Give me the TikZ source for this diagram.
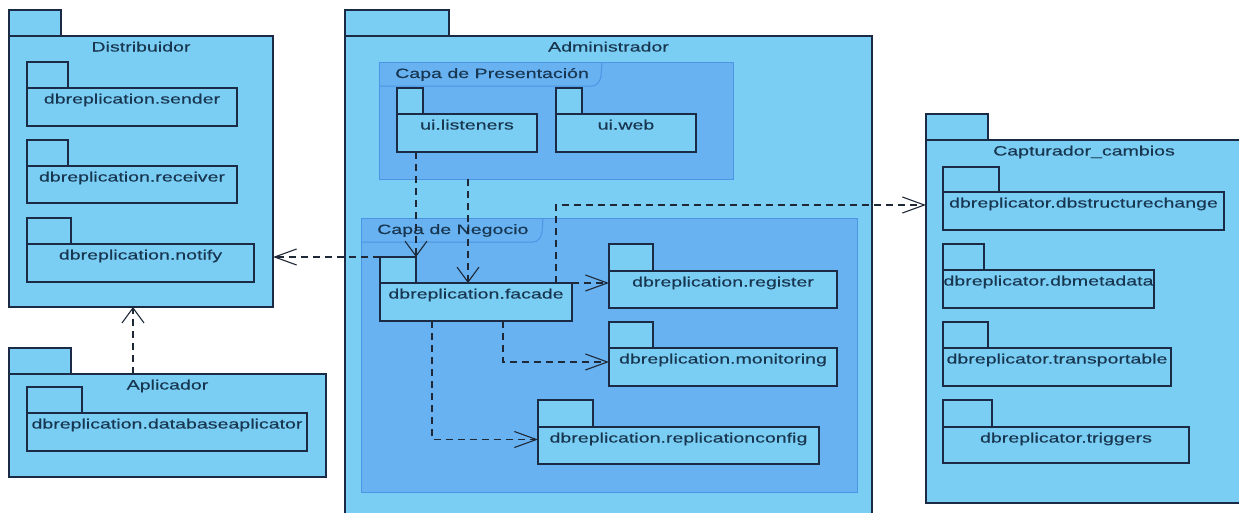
\documentclass[tikz,border=0pt]{standalone}
\usepackage{fontspec}
\setmainfont{Liberation Sans}[FakeStretch=1.45,FakeBold=0.35]
\usetikzlibrary{arrows.meta,calc}

\definecolor{pkgfill}{HTML}{7ACEF4}
\definecolor{pkgline}{HTML}{1B2B45}
\definecolor{layerfill}{HTML}{68B2F2}
\definecolor{layerline}{HTML}{4C94E4}
\definecolor{labeltext}{HTML}{183650}
\definecolor{depline}{HTML}{1E2836}

% UML package: tab + body, label centred at the top of the body
% #1 name, #2 left, #3 tab top, #4 tab right, #5 body top, #6 body right, #7 body bottom, #8 label
\newcommand{\umlpkg}[8]{%
  \node[pkgshape, minimum width={(#4-#2)*1pt}, minimum height={(#5-#3)*1pt}] (#1-tab) at (#2,#3) {};
  \node[pkgshape, minimum width={(#6-#2)*1pt}, minimum height={(#7-#5)*1pt}] (#1) at (#2,#5) {};
  \node[pkgtext] (#1-lbl) at ($(#1.north)+(0,15.5)$) {#8};
}

% Layer frame with a name tab in its upper left corner
% #1 name, #2 left, #3 top, #4 right, #5 bottom, #6 tab right, #7 label
\newcommand{\layerframe}[7]{%
  \node[layerbox, minimum width={(#4-#2)*1pt}, minimum height={(#5-#3)*1pt}] (#1) at (#2,#3) {};
  \draw[layerline, line width=1pt] (#2,#3+24) -- (#6-10,#3+24)
    to[out=0,in=-100] (#6-1,#3+14) -- (#6,#3);
  \node[pkgtext, anchor=base west] (#1-lbl) at (#2+16,#3+16) {#7};
}

\begin{document}
\begin{tikzpicture}[x=1pt,y=-1pt,
  pkgshape/.style={draw=pkgline, fill=pkgfill, line width=1.4pt, anchor=north west,
    inner sep=0pt, outer sep=0pt},
  pkgtext/.style={anchor=base, text=labeltext, inner sep=0pt,
    font=\fontsize{13.5}{16}\selectfont},
  layerbox/.style={draw=layerline, fill=layerfill, line width=1pt, anchor=north west,
    inner sep=0pt, outer sep=0pt},
  dep/.style={draw=depline, line width=1.1pt, dash pattern=on 7pt off 5pt},
  htip/.style={-{Straight Barb[length=22pt,width=16pt,line width=1.1pt]}},
  vtip/.style={-{Straight Barb[length=15pt,width=22pt,line width=1.1pt]}}]

\useasboundingbox (0,0) rectangle (1239,512);
\clip (0,0) rectangle (1239,512);

% Distribuidor
\umlpkg{dist}{9}{10}{61}{36}{273}{307}{Distribuidor}
\umlpkg{send}{27}{62}{68}{88}{237}{126}{dbreplication.sender}
\umlpkg{recv}{27}{140}{68}{166}{237}{203}{dbreplication.receiver}
\umlpkg{notif}{27}{218}{71}{244}{254}{282}{dbreplication.notify}

% Aplicador
\umlpkg{apl}{9}{348}{71}{374}{326}{477}{Aplicador}
\umlpkg{dbapl}{27}{387}{82}{413}{307}{451}{dbreplication.databaseaplicator}

% Administrador
\umlpkg{admin}{345}{10}{449}{36}{872}{530}{Administrador}
\layerframe{pres}{379}{62}{733}{179}{602}{Capa de Presentación}
\umlpkg{listen}{397}{88}{423}{114}{537}{152}{ui.listeners}
\umlpkg{web}{556}{88}{582}{114}{696}{152}{ui.web}
\layerframe{neg}{361}{218}{857}{492}{543}{Capa de Negocio}
\umlpkg{facade}{380}{257}{416}{283}{572}{321}{dbreplication.facade}
\umlpkg{reg}{609}{244}{653}{271}{837}{308}{dbreplication.register}
\umlpkg{mon}{609}{322}{653}{348}{837}{386}{dbreplication.monitoring}
\umlpkg{repl}{538}{400}{593}{427}{819}{464}{dbreplication.replicationconfig}

% Capturador_cambios
\umlpkg{capt}{926}{114}{988}{140}{1242}{503}{Capturador\_cambios}
\umlpkg{dbsc}{943}{167}{999}{192}{1224}{230}{dbreplicator.dbstructurechange}
\umlpkg{dbmeta}{943}{244}{984}{270}{1154}{308}{dbreplicator.dbmetadata}
\umlpkg{dbtr}{943}{322}{988}{348}{1171}{386}{dbreplicator.transportable}
\umlpkg{dbtrig}{943}{400}{992}{427}{1189}{463}{dbreplicator.triggers}

% Dependencies
\coordinate (xpres) at (468,0);
\coordinate (xcapt) at (556,205);
\coordinate (xmon) at (503,0);
\coordinate (xrepl) at (432,0);

\draw[dep, vtip] (facade-tab.north east |- listen.south) -- (facade-tab.north east);
\draw[dep, vtip] (xpres |- pres.south) -- (xpres |- facade.north);
\draw[dep, htip] (xcapt |- facade.north) |- (xcapt -| capt.west);
\draw[dep, htip] (facade-tab.north west) -- (facade-tab.north west -| dist.east);
\draw[dep, htip] (facade.north east) -- (facade.north east -| reg.west);
\draw[dep, htip] (xmon |- facade.south) |- ($(mon.west)+(0,-5)$);
\draw[dep, htip] (xrepl |- facade.south) |- ($(repl.west)+(0,-6)$);
\draw[dep, vtip] (apl.north -| 133,0) -- (dist.south -| 133,0);
\end{tikzpicture}
\end{document}
